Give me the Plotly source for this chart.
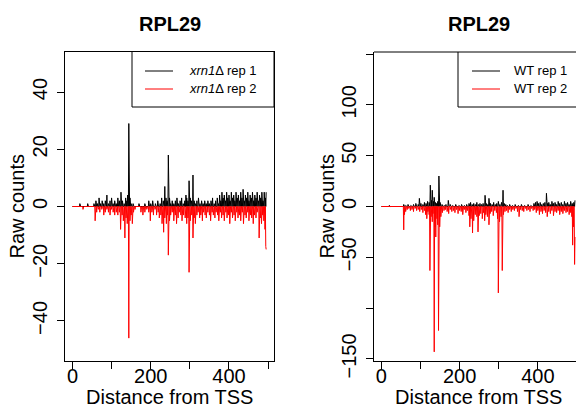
import plotly.graph_objects as go

# ---------------- data (sparse raw counts: position -> count; all other positions are 0) ----------
n_pos = 496  # positions 0..495 from TSS

xrn1_rep1_pos = [19, 39, 55, 60, 64, 68, 72, 76, 80, 84, 88, 92, 96, 100, 104, 108, 112, 116, 120, 124,
                 128, 132, 136, 139, 141, 144, 147, 150, 155, 170, 185, 195, 200, 205, 212, 218, 224, 228,
                 232, 236, 239, 242, 245, 248, 251, 255, 259, 263, 267, 271, 275, 279, 283, 287, 290, 292,
                 295, 298, 301, 304, 308, 311, 314, 318, 322, 326, 330, 334, 338, 342, 346, 350, 354, 358,
                 362, 366, 370, 373, 376, 379, 382, 385, 388, 391, 394, 397, 400, 403, 406, 409, 412, 415,
                 418, 421, 424, 427, 430, 433, 436, 439, 442, 445, 448, 451, 454, 457, 460, 463, 466, 469,
                 472, 475, 478, 481, 484, 487, 490, 493, 495]
xrn1_rep1_val = [1, 1, 1, 2, 1, 3, 1, 2, 1, 2, 4, 1, 2, 3, 1, 2, 1, 3, 2, 5,
                 2, 1, 3, 2, 4, 29, 3, 1, 1, 1, 1, 2, 1, 2, 1, 2, 1, 3,
                 2, 7, 3, 2, 18, 3, 1, 2, 1, 2, 3, 1, 2, 3, 1, 2, 4, 3,
                 2, 9, 3, 2, 11, 2, 1, 2, 3, 1, 2, 1, 2, 1, 2, 1, 2, 3,
                 1, 2, 3, 1, 4, 2, 5, 3, 4, 2, 5, 3, 4, 2, 5, 3, 4, 2,
                 5, 3, 4, 2, 5, 3, 6, 2, 4, 3, 5, 2, 4, 3, 5, 2, 4, 3,
                 5, 2, 4, 3, 5, 2, 5, 3, 5]

xrn1_rep2_pos = [27, 58, 62, 66, 70, 75, 80, 84, 88, 92, 96, 100, 104, 108, 112, 116, 120, 123, 127, 130,
                 134, 137, 140, 144, 147, 150, 153, 156, 160, 175, 180, 185, 190, 195, 199, 203, 207, 211,
                 215, 219, 222, 226, 229, 233, 236, 240, 243, 245, 248, 251, 255, 259, 263, 266, 270, 273,
                 277, 280, 284, 288, 292, 295, 298, 301, 305, 308, 311, 314, 318, 321, 325, 328, 332, 335,
                 339, 342, 346, 350, 353, 357, 360, 364, 367, 371, 374, 378, 381, 385, 388, 392, 395, 399,
                 402, 406, 409, 413, 416, 420, 423, 427, 430, 434, 437, 441, 444, 448, 451, 455, 458, 462,
                 465, 469, 472, 477, 480, 483, 486, 489, 492, 494, 495]
xrn1_rep2_val = [1, 5, 2, 1, 2, 1, 3, 2, 1, 2, 3, 1, 2, 3, 2, 3, 2, 8, 3, 5,
                 11, 4, 6, 46, 5, 3, 6, 2, 1, 2, 3, 2, 1, 2, 5, 2, 3, 1,
                 3, 2, 4, 3, 6, 9, 4, 6, 3, 17, 5, 3, 2, 5, 3, 6, 4, 2,
                 3, 5, 3, 4, 6, 4, 23, 5, 3, 11, 4, 6, 3, 2, 4, 3, 5, 2,
                 3, 4, 2, 3, 5, 2, 3, 4, 2, 3, 5, 2, 4, 3, 5, 2, 4, 3,
                 6, 2, 4, 3, 5, 2, 4, 3, 5, 2, 6, 3, 4, 2, 5, 3, 4, 6,
                 3, 4, 2, 11, 4, 6, 3, 5, 8, 14, 15]

wt_rep1_pos = [20, 57, 62, 68, 75, 82, 88, 94, 97, 101, 106, 110, 114, 118, 122, 125, 128, 130, 133, 135,
               138, 141, 144, 147, 150, 155, 160, 165, 171, 176, 182, 190, 198, 205, 212, 218, 224, 228,
               232, 236, 240, 244, 248, 252, 256, 260, 265, 268, 272, 275, 279, 283, 287, 291, 295, 299,
               303, 307, 311, 314, 318, 322, 328, 335, 342, 350, 358, 366, 375, 382, 390, 394, 398, 402,
               406, 410, 414, 418, 422, 425, 428, 432, 436, 440, 444, 448, 452, 456, 460, 464, 468, 472,
               476, 480, 484, 488, 492, 495]
wt_rep1_val = [1, 2, 1, 2, 1, 2, 3, 2, 8, 3, 2, 4, 3, 5, 4, 21, 6, 16, 5, 9,
               4, 3, 5, 30, 4, 2, 1, 2, 6, 2, 1, 2, 1, 2, 1, 2, 3, 4,
               2, 3, 2, 4, 2, 3, 2, 3, 11, 3, 2, 8, 3, 2, 4, 2, 3, 5,
               2, 4, 16, 3, 2, 1, 2, 1, 2, 1, 2, 1, 2, 1, 3, 4, 5, 3,
               4, 2, 3, 4, 13, 3, 4, 2, 5, 3, 4, 2, 5, 3, 4, 2, 5, 3,
               4, 2, 5, 3, 4, 6]

wt_rep2_pos = [57, 59, 62, 66, 70, 74, 78, 82, 86, 90, 94, 98, 102, 106, 110, 113, 116, 119, 122, 124,
               127, 130, 132, 135, 137, 139, 142, 144, 146, 149, 152, 156, 160, 164, 168, 172, 176, 180,
               184, 188, 192, 196, 200, 204, 208, 212, 216, 220, 224, 226, 229, 233, 236, 240, 244, 247,
               250, 254, 258, 261, 264, 267, 271, 275, 278, 282, 286, 290, 294, 297, 299, 302, 306, 309,
               312, 316, 320, 324, 328, 332, 336, 340, 344, 348, 352, 356, 360, 364, 368, 372, 376, 380,
               384, 388, 392, 396, 400, 404, 408, 412, 416, 420, 424, 428, 432, 436, 440, 444, 448, 452,
               456, 460, 464, 468, 472, 476, 480, 484, 487, 489, 491, 494, 495]
wt_rep2_val = [23, 8, 5, 3, 2, 4, 3, 5, 2, 4, 3, 5, 3, 6, 4, 8, 12, 5, 8, 63,
               10, 15, 7, 143, 20, 30, 12, 18, 122, 20, 10, 6, 4, 3, 5, 7, 3, 5,
               4, 6, 3, 7, 4, 5, 8, 3, 6, 4, 9, 20, 12, 26, 14, 8, 10, 25,
               9, 7, 12, 6, 14, 8, 10, 18, 7, 5, 9, 4, 6, 12, 85, 15, 10, 63,
               8, 5, 4, 6, 3, 5, 3, 4, 2, 5, 10, 3, 4, 5, 2, 4, 3, 5,
               2, 4, 3, 6, 4, 8, 5, 7, 4, 6, 10, 5, 7, 4, 9, 5, 6, 4,
               8, 5, 7, 4, 6, 5, 8, 6, 10, 38, 20, 57, 30]

panel_title = "RPL29"
x_label = "Distance from TSS"
y_label = "Raw counts"
left_names = ["<i>xrn1</i>\u0394 rep 1", "<i>xrn1</i>\u0394 rep 2"]
right_names = ["WT rep 1", "WT rep 2"]


def full_series(pos, val):
    y = [0] * n_pos
    for p, v in zip(pos, val):
        y[p] = v
    return y


xs = list(range(n_pos))
s_l1 = full_series(xrn1_rep1_pos, xrn1_rep1_val)
s_l2 = [-v for v in full_series(xrn1_rep2_pos, xrn1_rep2_val)]
s_r1 = full_series(wt_rep1_pos, wt_rep1_val)
s_r2 = [-v for v in full_series(wt_rep2_pos, wt_rep2_val)]

W, H = 576, 409
FONT = "Liberation Sans, Arial, Helvetica, sans-serif"


def px(x):
    return x / W


def py(y):
    return 1 - y / H


fig = go.Figure()
fig.add_trace(go.Scatter(x=xs, y=s_l1, mode="lines", line=dict(color="black", width=1),
                         xaxis="x", yaxis="y", showlegend=False, hoverinfo="skip"))
fig.add_trace(go.Scatter(x=xs, y=s_l2, mode="lines", line=dict(color="#FF0000", width=1),
                         xaxis="x", yaxis="y", showlegend=False, hoverinfo="skip"))
fig.add_trace(go.Scatter(x=xs, y=s_r1, mode="lines", line=dict(color="black", width=1),
                         xaxis="x2", yaxis="y2", showlegend=False, hoverinfo="skip"))
fig.add_trace(go.Scatter(x=xs, y=s_r2, mode="lines", line=dict(color="#FF0000", width=1),
                         xaxis="x2", yaxis="y2", showlegend=False, hoverinfo="skip"))

box_top, box_bottom = 52, 361
L_left, L_right = 65, 274
R_left = 374

tickfont = dict(family=FONT, size=20, color="black")
common_x = dict(showgrid=False, zeroline=False, showline=True, linecolor="black", linewidth=1,
                ticks="outside", ticklen=7, tickwidth=1, tickcolor="black",
                tickvals=[0, 100, 200, 300, 400, 500], ticktext=["0", "", "200", "", "400", ""],
                tickfont=tickfont, automargin=False, ticklabelstandoff=-10)
common_y = dict(showgrid=False, zeroline=False, showline=True, linecolor="black", linewidth=1,
                ticks="outside", ticklen=7, tickwidth=1, tickcolor="black",
                tickangle=-90, tickfont=tickfont, automargin=False, ticklabelstandoff=2)

fig.update_layout(
    width=W, height=H, margin=dict(l=0, r=0, t=0, b=0, pad=0, autoexpand=False),
    autosize=False,
    paper_bgcolor="white", plot_bgcolor="white",
    font=dict(family=FONT, color="black"),
    xaxis=dict(domain=[px(L_left), px(L_right)], range=[-19, 515], mirror=True, anchor="y", **common_x),
    yaxis=dict(domain=[py(box_bottom), py(box_top)], range=[-54, 54], mirror=True, anchor="x",
               tickvals=[-40, -20, 0, 20, 40], ticktext=["\u221240", "\u221220", "0", "20", "40"], **common_y),
    xaxis2=dict(domain=[px(R_left), 1.0], range=[-19, 497.6], anchor="y2", **common_x),
    yaxis2=dict(domain=[py(box_bottom), py(box_top)], range=[-152, 152], anchor="x2",
                tickvals=[-150, -100, -50, 0, 50, 100, 150],
                ticktext=["\u2212150", "", "\u221250", "0", "50", "100", ""], **common_y),
)

shapes = []
annotations = []


def hline(x0, x1, y, color="black"):
    shapes.append(dict(type="line", xref="paper", yref="paper", x0=px(x0), x1=px(x1),
                       y0=py(y), y1=py(y), line=dict(color=color, width=1)))


def vline(x, y0, y1):
    shapes.append(dict(type="line", xref="paper", yref="paper", x0=px(x), x1=px(x),
                       y0=py(y0), y1=py(y1), line=dict(color="black", width=1)))


# top border of right panel (its right side is cut off by the page edge)
hline(R_left, W, box_top)


def legend(x0, x1, line_x0, line_x1, text_x, names, right_edge=True):
    hline(x0, x1, 107)
    vline(x0, box_top, 107)
    if right_edge:
        vline(x1, box_top, 107)
    for yy, col, nm in [(71, "black", names[0]), (89, "#FF0000", names[1])]:
        hline(line_x0, line_x1, yy, col)
        annotations.append(dict(xref="paper", yref="paper", x=px(text_x), y=py(yy), text=nm,
                                showarrow=False, xanchor="left", yanchor="middle",
                                font=dict(family=FONT, size=13, color="black")))


legend(132, L_right, 145, 173, 187, left_names)
legend(458, W, 472, 500, 512, right_names, right_edge=False)

for cx, lx in [((L_left + L_right) / 2, 16), ((R_left + 583) / 2, 326)]:
    annotations.append(dict(xref="paper", yref="paper", x=px(cx), y=py(24), text="<b>" + panel_title + "</b>",
                            showarrow=False, xanchor="center", yanchor="middle",
                            font=dict(family=FONT, size=20, color="black")))
    annotations.append(dict(xref="paper", yref="paper", x=px(cx), y=py(397), text=x_label,
                            showarrow=False, xanchor="center", yanchor="middle",
                            font=dict(family=FONT, size=20, color="black")))
    annotations.append(dict(xref="paper", yref="paper", x=px(lx), y=py((box_top + box_bottom) / 2),
                            text=y_label, textangle=-90, showarrow=False, xanchor="center",
                            yanchor="middle", font=dict(family=FONT, size=20, color="black")))

fig.update_layout(shapes=shapes, annotations=annotations)
fig.write_html("out.html")
